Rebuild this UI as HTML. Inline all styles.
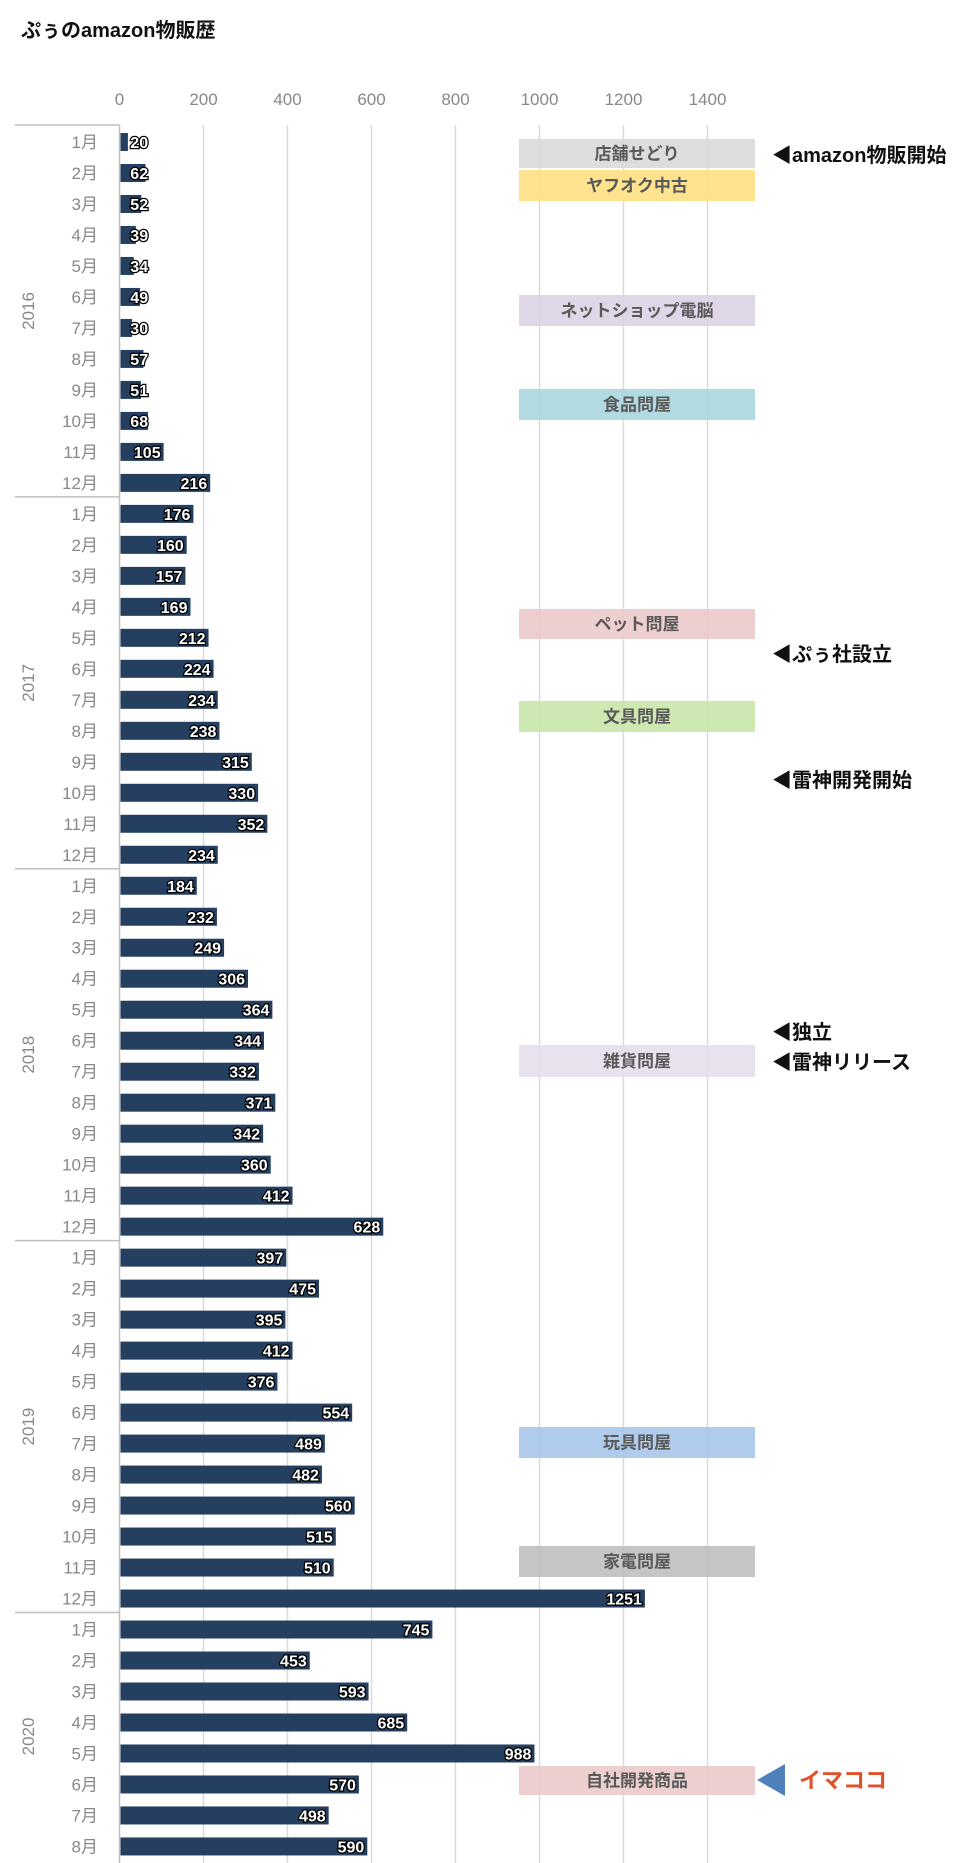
<!DOCTYPE html>
<html><head><meta charset="utf-8"><style>
body{margin:0;background:#fff;}
svg{display:block;font-family:"Liberation Sans","Noto Sans CJK JP",sans-serif;}
</style></head><body>
<svg id="c" width="972" height="1863" viewBox="0 0 972 1863"></svg>
<script>
const years=['2016','2017','2018','2019','2020'];
const monthsPerYear=[12,12,12,12,8];
const values=[20,62,52,39,34,49,30,57,51,68,105,216,
176,160,157,169,212,224,234,238,315,330,352,234,
184,232,249,306,364,344,332,371,342,360,412,628,
397,475,395,412,376,554,489,482,560,515,510,1251,
745,453,593,685,988,570,498,590];
const ticks=[0,200,400,600,800,1000,1200,1400];
const boxes=[['店舗せどり',139,168,'#d9d9d9'],['ヤフオク中古',170,201,'#ffe082'],['ネットショップ電脳',295,326,'#dcd3e6'],['食品問屋',389,420,'#a9d6e0'],['ペット問屋',609,639,'#eccaca'],['文具問屋',701,732,'#c8e6a8'],['雑貨問屋',1045,1077,'#e4dfeb'],['玩具問屋',1427,1458,'#a9c5ea'],['家電問屋',1546,1577,'#bfbfbf'],['自社開発商品',1766,1795,'#eccaca']];
const notes=[['◀amazon物販開始',155],['◀ぷぅ社設立',654],['◀雷神開発開始',780],['◀独立',1032],['◀雷神リリース',1062]];
const NS='http://www.w3.org/2000/svg';
const svg=document.getElementById('c');
const X0=119.5,K=0.42,Y0=142,P=30.99,TOP=125;
const xs=v=>X0+v*K;
const ys=i=>Y0+i*P;
function mk(t,a,txt){const e=document.createElementNS(NS,t);for(const k in a)e.setAttribute(k,a[k]);if(txt!==undefined)e.textContent=txt;svg.appendChild(e);return e;}
let e=mk('text',{x:21,y:37,'font-size':20,'font-weight':'bold',fill:'#111'},'ぷぅのamazon物販歴');


const BOT=ys(values.length-1)+16;
ticks.forEach(t=>{
 if(t>0){const l=mk('line',{x1:xs(t),x2:xs(t),y1:TOP,y2:1863,stroke:'#d9d9d9','stroke-width':1.5});
 
 }
 const tx=mk('text',{x:xs(t),y:105,'font-size':17,fill:'#888','text-anchor':'middle'},String(t));
 
 
});
boxes.forEach(b=>{
 const r=mk('rect',{x:519,y:b[1],width:236,height:b[2]-b[1],fill:b[3],opacity:0.9});
 
 
 const t=mk('text',{x:637,y:(b[1]+b[2])/2+6,'font-size':17,'font-weight':'bold',fill:'#595959','text-anchor':'middle'},b[0]);
 
 
});
notes.forEach(n=>{
 const t=mk('text',{x:772,y:n[1]+7,'font-size':20,'font-weight':'bold',fill:'#111'},n[0]);
 
 
});
e=mk('polygon',{points:'757,1780 785,1764 785,1796',fill:'#4f81bd'});


e=mk('text',{x:799,y:1788,'font-size':22,'font-weight':'bold',fill:'#e0522a'},'イマココ');


// axis frame
e=mk('line',{x1:X0,x2:X0,y1:TOP,y2:1863,stroke:'#bfbfbf','stroke-width':1.5});


let idx=0;
years.forEach((y,yi)=>{
 const top=TOP+idx*P;
 const l=mk('line',{x1:15,x2:X0,y1:top,y2:top,stroke:'#bfbfbf','stroke-width':1.5});
 
 
 const cy=top+monthsPerYear[yi]*P/2;
 const t=mk('text',{x:0,y:0,'font-size':17,fill:'#888','text-anchor':'middle',transform:`translate(34,${cy}) rotate(-90)`},y);
 
 
 for(let m=0;m<monthsPerYear[yi];m++){
  const t2=mk('text',{x:98,y:ys(idx+m)+6,'font-size':17,fill:'#888','text-anchor':'end'},(m+1)+'月');
  
  
 }
 idx+=monthsPerYear[yi];
});
values.forEach((v,i)=>{
 const r=mk('rect',{x:X0+1,y:ys(i)-9,width:Math.max(1,xs(v)-X0-1),height:18,fill:'#243f60'});
 
 
 const s=String(v);
 const w=s.length*9.3;
 const right=Math.max(xs(v)-3,X0+10+w);
 const t=mk('text',{x:right,y:ys(i)+6,'font-size':16,'font-weight':'bold',fill:'#fff','text-anchor':'end',stroke:'#000','stroke-width':2.5,'paint-order':'stroke'},s);
 
 
});
</script>
</body></html>
